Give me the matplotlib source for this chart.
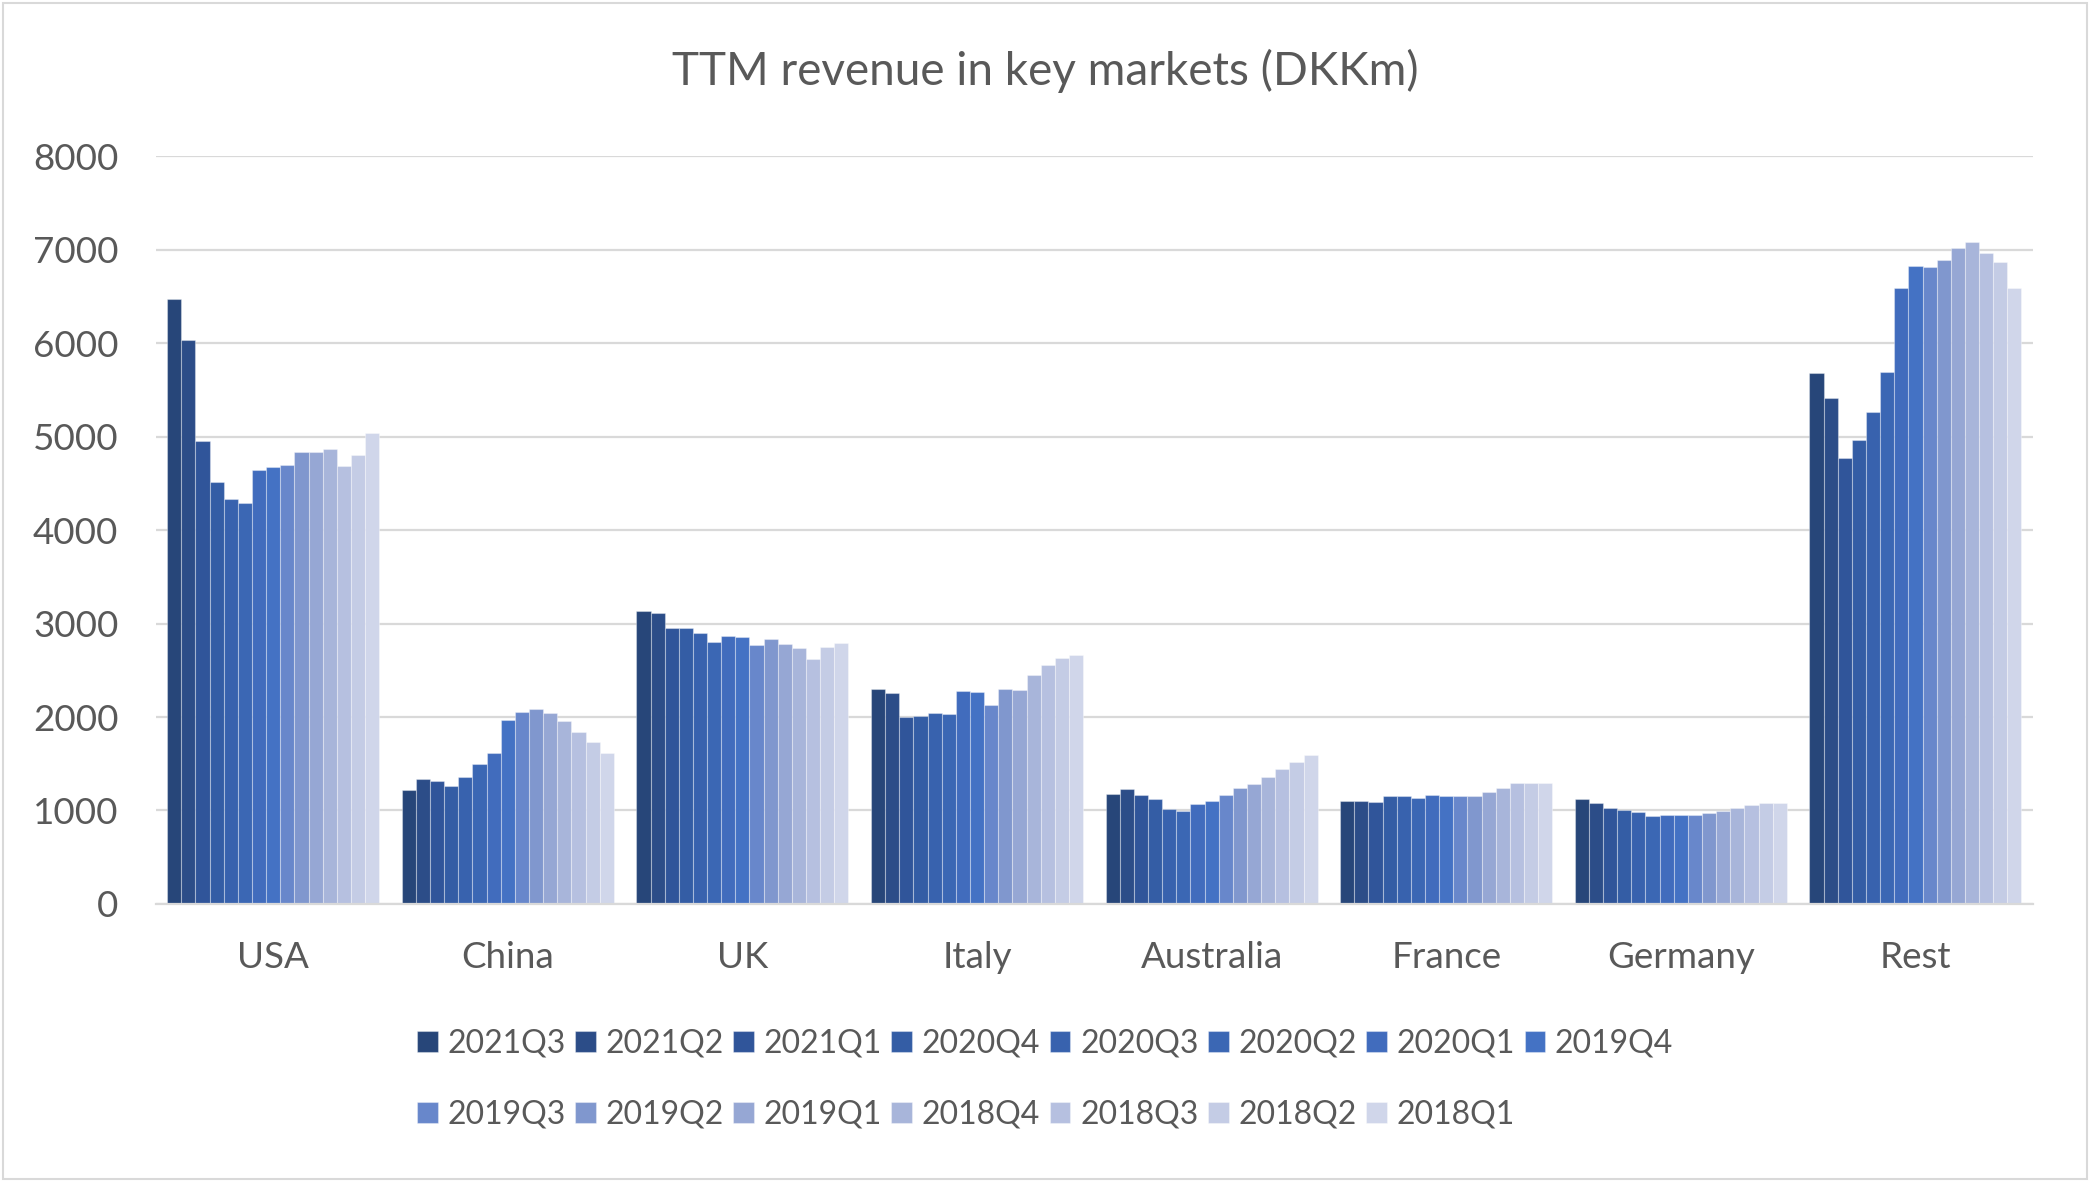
import matplotlib
matplotlib.use("Agg")
import matplotlib.pyplot as plt
from matplotlib.patches import Rectangle
import numpy as np

# data (DKKm, trailing twelve months)
markets = ["USA", "China", "UK", "Italy", "Australia", "France", "Germany", "Rest"]
quarters = ["2021Q3", "2021Q2", "2021Q1", "2020Q4", "2020Q3", "2020Q2", "2020Q1", "2019Q4",
            "2019Q3", "2019Q2", "2019Q1", "2018Q4", "2018Q3", "2018Q2", "2018Q1"]

usa = [6470, 6030, 4950, 4510, 4330, 4290, 4640, 4670, 4690, 4835, 4835, 4870, 4680, 4800, 5035]
china = [1215, 1335, 1320, 1260, 1355, 1500, 1620, 1970, 2055, 2085, 2040, 1955, 1840, 1735, 1620]
uk = [3130, 3115, 2955, 2955, 2900, 2805, 2870, 2860, 2775, 2835, 2780, 2740, 2620, 2750, 2790]
italy = [2300, 2260, 2000, 2015, 2045, 2030, 2280, 2265, 2130, 2300, 2290, 2450, 2555, 2630, 2660]
australia = [1175, 1230, 1165, 1120, 1015, 995, 1070, 1105, 1170, 1240, 1280, 1355, 1445, 1520, 1590]
france = [1105, 1105, 1095, 1150, 1150, 1130, 1170, 1160, 1150, 1160, 1195, 1245, 1290, 1290, 1290]
germany = [1120, 1080, 1025, 1010, 980, 940, 950, 955, 955, 970, 990, 1030, 1055, 1085, 1085]
rest = [5675, 5410, 4765, 4960, 5260, 5695, 6590, 6825, 6815, 6885, 7020, 7080, 6960, 6870, 6590]

colors = ["#274679", "#2C4D88", "#30559A", "#345DA5", "#3862AE", "#3B67B4", "#416CBD", "#4472C4",
          "#6887CB", "#8097CE", "#96A7D4", "#A8B5DA", "#B6C0E0", "#C4CCE5", "#D0D6EA"]

text_color = "#595959"
plt.rcParams["font.family"] = ["Lato", "DejaVu Sans"]

values = np.array([usa, china, uk, italy, australia, france, germany, rest])  # market x quarter

fig = plt.figure(figsize=(20.9, 11.82), dpi=100)
ax = fig.add_axes([0.0746, 0.2352, 0.898, 0.6328])

x = np.arange(len(markets))
group = 0.904
w = group / len(quarters)
for i, q in enumerate(quarters):
    offs = -group / 2 + w * (i + 0.5)
    ax.bar(x + offs, values[:, i], width=w, color=colors[i], label=q,
           edgecolor=(1, 1, 1, 0.35), linewidth=0.8, zorder=3)

ax.set_xlim(-0.5, len(markets) - 0.5)
ax.set_ylim(0, 8000)
ax.set_yticks(range(0, 8001, 1000))
ax.yaxis.grid(True, color="#D9D9D9", linewidth=1.6, zorder=0)
ax.set_axisbelow(True)
for s in ["left", "right", "top"]:
    ax.spines[s].set_visible(False)
ax.spines["bottom"].set_color("#D9D9D9")
ax.spines["bottom"].set_linewidth(1.6)
ax.spines["bottom"].set_zorder(4)

ax.set_xticks(x)
ax.set_xticklabels(markets)
ax.tick_params(axis="both", length=0, labelsize=26.5, colors=text_color)
ax.tick_params(axis="y", pad=27)
ax.tick_params(axis="x", pad=27)

fig.text(0.5, 0.94, "TTM revenue in key markets (DKKm)", fontsize=33, color=text_color,
         ha="center", va="center")

# legend in two rows, filled row by row like the original
handles, labels = ax.get_legend_handles_labels()
order = []
for c in range(8):
    order.append(c)
    if c + 8 < len(handles):
        order.append(c + 8)
leg = fig.legend([handles[k] for k in order], [labels[k] for k in order],
                 loc="center", bbox_to_anchor=(0.5, 0.087), ncol=8, frameon=False,
                 fontsize=23, labelcolor=text_color, handlelength=0.65, handleheight=0.65,
                 handletextpad=0.3, columnspacing=0.3, labelspacing=1.3)

# outer chart border
fig.patches.append(Rectangle((0.0015, 0.0025), 0.997, 0.995, transform=fig.transFigure,
                             fill=False, edgecolor="#D9D9D9", linewidth=1.5))

fig.savefig("out.png", dpi=100)
